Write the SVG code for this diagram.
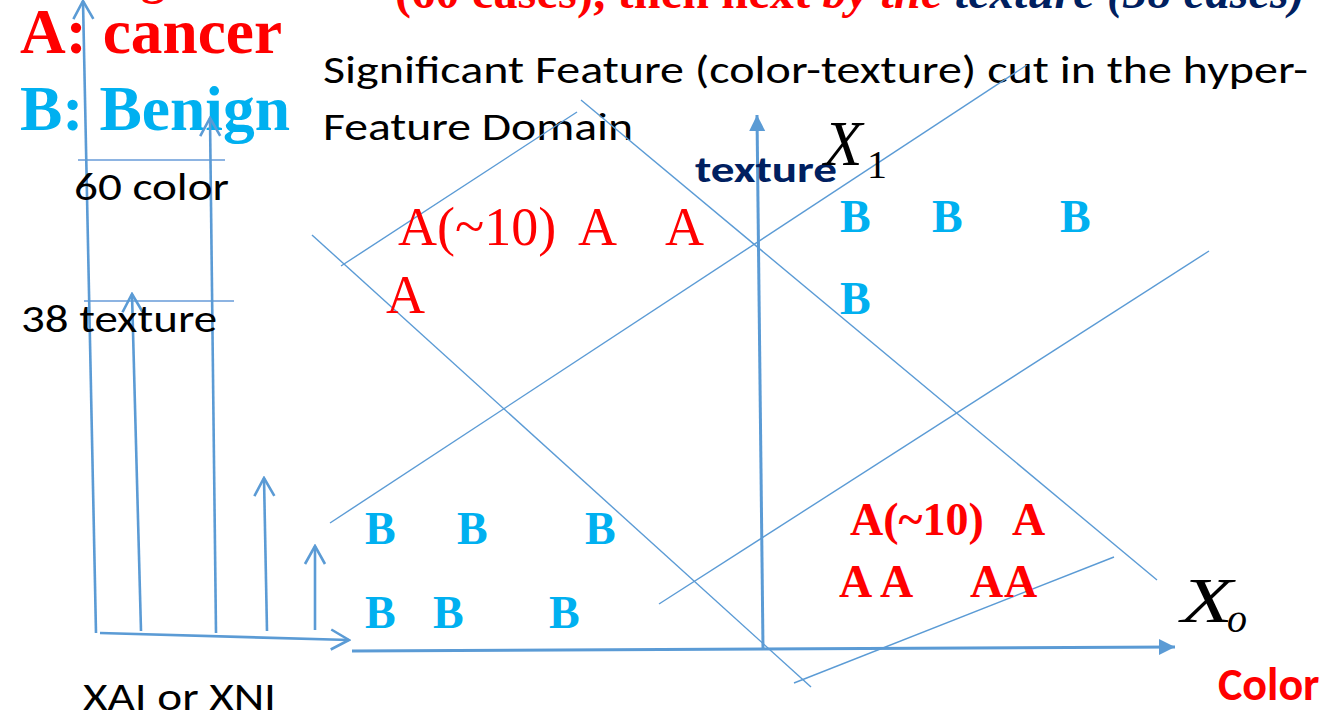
<svg xmlns="http://www.w3.org/2000/svg" width="1319" height="717" viewBox="0 0 1319 717">
<style>
.ax{stroke:#5B9BD5;stroke-width:3;fill:none}
.lf{stroke:#5B9BD5;stroke-width:2.6;fill:none}
.hl{stroke:#8DB4E2;stroke-width:2;fill:none}
.cut{stroke:#5B9BD5;stroke-width:1.4;fill:none}
.tnr{font-family:"Liberation Serif","Times New Roman",serif}
.cal{font-family:Carlito,Lato,"Liberation Sans",sans-serif}
.red{fill:#FF0000}
.cyan{fill:#00B0F0}
.navy{fill:#002060}
</style>
<defs>
<marker id="open" markerUnits="userSpaceOnUse" viewBox="-22 -13 24 26" refX="0" refY="0" markerWidth="24" markerHeight="26" orient="auto">
<path d="M-18,-10 L0,0 L-18,10" fill="none" stroke="#5B9BD5" stroke-width="2.6"/>
</marker>
<marker id="tri" markerUnits="userSpaceOnUse" viewBox="-16 -9 17 18" refX="0" refY="0" markerWidth="17" markerHeight="18" orient="auto">
<path d="M-16,-8 L0,0 L-16,8 Z" fill="#5B9BD5"/>
</marker>
</defs>
<rect width="1319" height="717" fill="#FFFFFF"/>

<g id="title" class="tnr" font-weight="bold" font-size="48">
<text x="141" y="-6" class="red">g</text>
<text x="395" y="8" textLength="910"><tspan class="red">(60 cases), then next </tspan><tspan class="red" font-style="italic">by the </tspan><tspan class="navy" font-style="italic">texture (38 cases)</tspan></text>
</g>

<g id="legend" class="tnr" font-weight="bold" font-size="63">
<text x="20" y="53" class="red" textLength="262" lengthAdjust="spacingAndGlyphs">A: cancer</text>
<text x="20" y="130" class="cyan" textLength="270" lengthAdjust="spacingAndGlyphs">B: Benign</text>
</g>

<g id="heading" class="cal" font-size="39" fill="#000000">
<text x="323" y="83" textLength="985" lengthAdjust="spacingAndGlyphs">Significant Feature (color-texture) cut in the hyper-</text>
<text x="323" y="140" textLength="310" lengthAdjust="spacingAndGlyphs">Feature Domain</text>
</g>

<g id="xai-chart">
<line class="hl" x1="78" y1="160" x2="225" y2="160"/>
<line class="hl" x1="84" y1="301" x2="234" y2="301"/>
<line class="lf" x1="96" y1="633" x2="83" y2="1" marker-end="url(#open)"/>
<line class="lf" x1="141" y1="631" x2="132" y2="294" marker-end="url(#open)"/>
<line class="lf" x1="216" y1="633" x2="210" y2="118" marker-end="url(#open)"/>
<line class="lf" x1="267" y1="631" x2="264" y2="478" marker-end="url(#open)"/>
<line class="lf" x1="315" y1="630" x2="315" y2="546" marker-end="url(#open)"/>
<line class="lf" x1="100" y1="633" x2="349" y2="640" marker-end="url(#open)"/>
<text class="cal" x="74" y="200" font-size="39" textLength="155" lengthAdjust="spacingAndGlyphs">60 color</text>
<text class="cal" x="21" y="332" font-size="39" textLength="196" lengthAdjust="spacingAndGlyphs">38 texture</text>
<text class="cal" x="83" y="710" font-size="39" textLength="193" lengthAdjust="spacingAndGlyphs">XAI or XNI</text>
</g>

<g id="connectors">
<line class="cut" x1="312" y1="235" x2="811" y2="687"/>
<line class="cut" x1="341" y1="266" x2="577" y2="112"/>
<line class="cut" x1="581" y1="100" x2="1157" y2="580"/>
<line class="cut" x1="330" y1="523" x2="1027" y2="65"/>
<line class="cut" x1="659" y1="604" x2="1209" y2="251"/>
<line class="cut" x1="794" y1="683" x2="1114" y2="557"/>
<line class="ax" x1="352" y1="651" x2="1175" y2="647" marker-end="url(#tri)"/>
<line class="ax" x1="763" y1="648" x2="757" y2="115" marker-end="url(#tri)"/>
</g>

<g id="axis-labels">
<text class="cal navy" x="695" y="182" font-size="36" font-weight="bold" textLength="142" lengthAdjust="spacingAndGlyphs">texture</text>
<text class="tnr" y="165" font-size="63" font-style="italic"><tspan x="824">X</tspan><tspan x="867" y="178" font-size="40" font-style="normal">1</tspan></text>
<text class="tnr" y="622" font-size="63" font-style="italic"><tspan x="1181" textLength="52" lengthAdjust="spacingAndGlyphs">X</tspan><tspan x="1227" y="632" font-size="40">o</tspan></text>
<text class="cal red" x="1218" y="700" font-size="46" font-weight="bold">Color</text>
</g>

<g id="cluster-a-top" class="tnr red" font-size="54">
<text x="398" y="245">A(~10)</text>
<text x="578" y="245">A</text>
<text x="665" y="245">A</text>
<text x="386" y="313">A</text>
</g>

<g id="cluster-b-top" class="tnr cyan" font-size="46" font-weight="bold">
<text x="840" y="232">B</text>
<text x="932" y="232">B</text>
<text x="1060" y="232">B</text>
<text x="840" y="314">B</text>
</g>

<g id="cluster-b-bottom" class="tnr cyan" font-size="46" font-weight="bold">
<text x="365" y="544">B</text>
<text x="457" y="544">B</text>
<text x="585" y="544">B</text>
<text x="365" y="628">B</text>
<text x="433" y="628">B</text>
<text x="549" y="628">B</text>
</g>

<g id="cluster-a-bottom" class="tnr red" font-size="46" font-weight="bold">
<text x="850" y="535">A(~10)</text>
<text x="1012" y="535">A</text>
<text x="839" y="597">A</text>
<text x="880" y="597">A</text>
<text x="970" y="597">A</text>
<text x="1004" y="597">A</text>
</g>
</svg>
